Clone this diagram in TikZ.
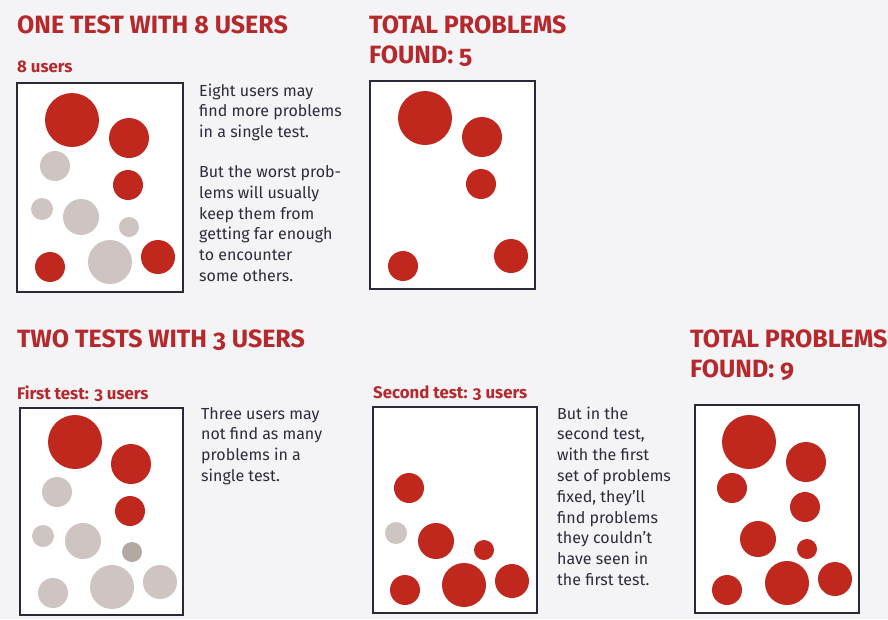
\documentclass[tikz,border=0pt]{standalone}
\usepackage{fontspec}
\setmainfont{Fira Sans}[Numbers=OldStyle]
\newfontfamily\headfont{Fira Sans}[Numbers=OldStyle]
\newfontfamily\bodyfont{Fira Sans}[Numbers=OldStyle]

\definecolor{paper}{RGB}{244,244,246}
\definecolor{inkred}{RGB}{181,40,44}
\definecolor{spotred}{RGB}{192,40,30}
\definecolor{spotgrey}{RGB}{206,197,194}
\definecolor{spotdark}{RGB}{180,168,162}
\definecolor{frame}{RGB}{40,42,56}
\definecolor{bodyink}{RGB}{44,44,58}

% Text blocks hang from their top edge; each starts with a strut so the
% first baseline sits 0.7\baselineskip below the anchor.
\tikzset{
  heading/.style={anchor=north west, inner sep=0pt, align=left, text=inkred,
    font=\headfont\bfseries\fontsize{25}{30}\selectfont},
  subhead/.style={anchor=base west, inner sep=0pt, text=inkred,
    font=\headfont\bfseries\fontsize{16.8}{20}\selectfont},
  body/.style={anchor=north west, inner sep=0pt, align=left, text=bodyink,
    font=\bodyfont\fontsize{16}{20.8}\selectfont},
  panel/.style={draw=frame, line width=1.6pt, fill=white},
  spot/.style={circle, inner sep=0pt, draw=none, minimum size=#1*2pt},
  redspot/.style={spot=#1, fill=spotred},
  greyspot/.style={spot=#1, fill=spotgrey},
  darkspot/.style={spot=#1, fill=spotdark},
}

\begin{document}
\begin{tikzpicture}[x=1pt,y=-1pt]
  \fill[paper] (0,0) rectangle (888,619);
  \useasboundingbox (0,0) rectangle (888,619);

  % ---------- one test with eight users ----------
  \node[heading] (t1) at (17,12) {\strut ONE TEST WITH 8 USERS};
  \node[subhead] (s1) at (17,72) {8 users};
  \draw[panel] (17,83) rectangle (183,292);
  \node[redspot=27]  (a1)  at (72,120)  {};
  \node[redspot=20]  (a2)  at (129,138) {};
  \node[greyspot=15] (a3)  at (55,166)  {};
  \node[redspot=15]  (a4)  at (128,185) {};
  \node[greyspot=11] (a5)  at (42,209)  {};
  \node[greyspot=18] (a6)  at (81,217)  {};
  \node[greyspot=10] (a7)  at (129,227) {};
  \node[redspot=15]  (a8)  at (50,267)  {};
  \node[greyspot=22] (a9)  at (110,262) {};
  \node[redspot=17]  (a10) at (158,257) {};
  \node[body] (p1) at (199,81.4) {\strut Eight users may\\find more problems\\in a single test.\\[19pt]
    But the worst prob-\\lems will usually\\keep them from\\getting far enough\\to encounter\\some others.};

  % ---------- total after one test ----------
  \node[heading] (t2) at (369,12) {\strut TOTAL PROBLEMS\\FOUND: 5};
  \draw[panel] (370,81) rectangle (535,289);
  \node[redspot=27] (b1) at (425,118) {};
  \node[redspot=20] (b2) at (482,137) {};
  \node[redspot=15] (b3) at (481,184) {};
  \node[redspot=15] (b4) at (403,266) {};
  \node[redspot=17] (b5) at (511,256) {};

  % ---------- two tests with three users ----------
  \node[heading] (t3) at (17,326) {\strut TWO TESTS WITH 3 USERS};
  \node[subhead] (s3) at (17,399) {First test: 3 users};
  \draw[panel] (20,408) rectangle (183,615);
  \node[redspot=27]  (c1)  at (75,442)  {};
  \node[redspot=20]  (c2)  at (131,464) {};
  \node[greyspot=15] (c3)  at (57,492)  {};
  \node[redspot=15]  (c4)  at (130,511) {};
  \node[greyspot=11] (c5)  at (43,536)  {};
  \node[greyspot=18] (c6)  at (83,541)  {};
  \node[darkspot=10] (c7)  at (132,552) {};
  \node[greyspot=15] (c8)  at (53,593)  {};
  \node[greyspot=22] (c9)  at (112,587) {};
  \node[greyspot=17] (c10) at (160,582) {};
  \node[body] (p3) at (201,404.4) {\strut Three users may\\not find as many\\problems in a\\single test.};

  \node[subhead] (s4) at (373,398) {Second test: 3 users};
  \draw[panel] (373,407) rectangle (537,613);
  \node[redspot=15]  (d1) at (409,488) {};
  \node[greyspot=11] (d2) at (396,533) {};
  \node[redspot=18]  (d3) at (436,541) {};
  \node[redspot=10]  (d4) at (484,550) {};
  \node[redspot=15]  (d5) at (405,590) {};
  \node[redspot=22]  (d6) at (464,585) {};
  \node[redspot=17]  (d7) at (512,581) {};
  \node[body] (p4) at (557,404.4) {\strut But in the\\second test,\\with the first\\set of problems\\fixed, they’ll\\find problems\\they couldn’t\\have seen in\\the first test.};

  % ---------- total after two tests ----------
  \node[heading] (t5) at (690,326) {\strut TOTAL PROBLEMS\\FOUND: 9};
  \draw[panel] (695,405) rectangle (859,613);
  \node[redspot=27] (e1) at (749,442) {};
  \node[redspot=20] (e2) at (806,462) {};
  \node[redspot=15] (e3) at (732,488) {};
  \node[redspot=15] (e4) at (805,507) {};
  \node[redspot=18] (e5) at (758,539) {};
  \node[redspot=10] (e6) at (807,549) {};
  \node[redspot=15] (e7) at (727,590) {};
  \node[redspot=22] (e8) at (787,583) {};
  \node[redspot=17] (e9) at (835,579) {};
\end{tikzpicture}
\end{document}
